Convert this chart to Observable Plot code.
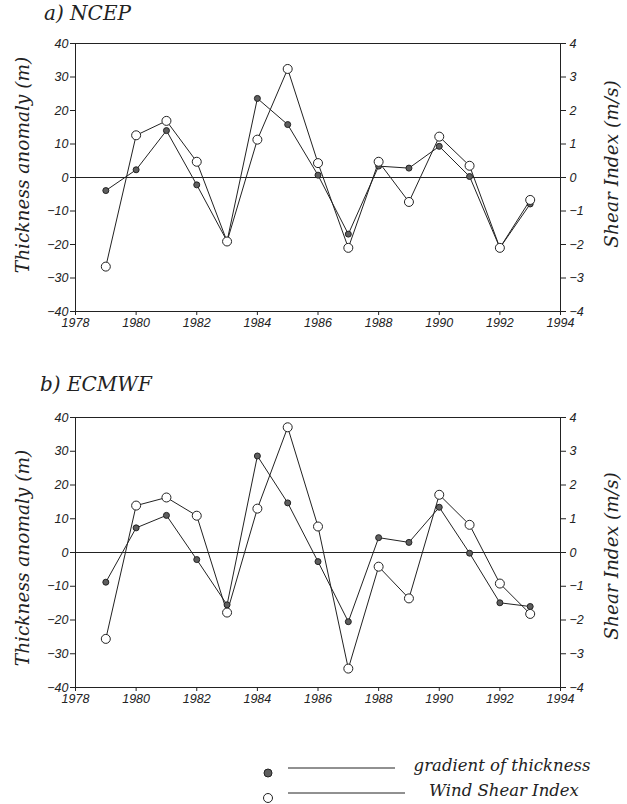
<!DOCTYPE html>
<html><head><meta charset="utf-8">
<script src="https://cdn.jsdelivr.net/npm/d3@7"></script>
<script src="https://cdn.jsdelivr.net/npm/@observablehq/plot@0.6"></script>
<style>
body{margin:0;background:#fff;}
#wrap{position:relative;width:627px;height:804px;background:#fff;overflow:hidden;}
.panel{position:absolute;left:0;}
.title{position:absolute;font-family:"DejaVu Serif",serif;font-style:italic;font-size:20px;color:#222;white-space:nowrap;}
</style></head>
<body><div id="wrap"></div>
<script>
const years = [1979,1980,1981,1982,1983,1984,1985,1986,1987,1988,1989,1990,1991,1992,1993];
const ncepThickness = [-3.9, 2.3, 14.0, -2.2, -19.0, 23.6, 15.8, 0.7, -16.9, 3.4, 2.8, 9.3, 0.3, -21.0, -7.9];
const ncepShear = [-2.66, 1.26, 1.69, 0.47, -1.91, 1.13, 3.24, 0.43, -2.10, 0.47, -0.73, 1.22, 0.35, -2.10, -0.67];
const ecmwfThickness = [-8.8, 7.3, 11.0, -2.1, -15.5, 28.6, 14.7, -2.7, -20.5, 4.4, 3.0, 13.4, -0.2, -14.9, -16.0];
const ecmwfShear = [-2.56, 1.39, 1.63, 1.09, -1.78, 1.30, 3.71, 0.77, -3.44, -0.42, -1.36, 1.71, 0.82, -0.92, -1.82];
const xTicks = [1978,1980,1982,1984,1986,1988,1990,1992,1994];
const yTicks = [-40,-30,-20,-10,0,10,20,30,40];
const leftLabel = "Thickness anomaly (m)";
const rightLabel = "Shear Index (m/s)";
const legendLabels = ["gradient of thickness", "Wind Shear Index"];

const fmt = d => d < 0 ? "\u2212" + Math.abs(d) : String(d);
const ink = "#222";
const wrap = document.getElementById("wrap");

function panel(thick, shear, top, height, mTop, mBottom, title, titleTop, titleLeft) {
  const rows = years.map((y, i) => ({year: y, thick: thick[i], shear: shear[i]}));
  const chart = Plot.plot({
    width: 627, height,
    marginTop: mTop, marginBottom: mBottom, marginLeft: 75, marginRight: 67,
    x: {domain: [1978, 1994]},
    y: {domain: [-40, 40]},
    style: {fontFamily: "'Liberation Sans', sans-serif", fontStyle: "italic", fontSize: "12.5px", color: ink, background: "transparent"},
    marks: [
      Plot.frame({stroke: ink}),
      Plot.ruleY([0], {stroke: ink, strokeWidth: 1}),
      Plot.axisX({ticks: xTicks, tickFormat: d => String(d), tickSize: 4, tickPadding: 3, label: null}),
      Plot.axisY({anchor: "left", ticks: yTicks, tickFormat: fmt, tickSize: 5, tickPadding: 2, label: null}),
      Plot.axisY({anchor: "right", ticks: yTicks, tickFormat: d => fmt(d / 10), tickSize: 5, tickPadding: 4, label: null}),
      Plot.line(rows, {x: "year", y: "thick", stroke: ink, strokeWidth: 1}),
      Plot.line(rows, {x: "year", y: d => d.shear * 10, stroke: ink, strokeWidth: 1}),
      Plot.dot(rows, {x: "year", y: "thick", r: 3, fill: "#5e5e5e", stroke: ink, strokeWidth: 1}),
      Plot.dot(rows, {x: "year", y: d => d.shear * 10, r: 4.5, fill: "#fff", stroke: ink, strokeWidth: 1})
    ]
  });
  chart.classList.add("panel");
  chart.style.top = top + "px";
  wrap.appendChild(chart);
  const t = document.createElement("div");
  t.className = "title";
  t.textContent = title;
  t.style.top = titleTop + "px";
  t.style.left = titleLeft + "px";
  wrap.appendChild(t);
}

panel(ncepThickness, ncepShear, 0, 340, 43, 29, "a) NCEP", 1, 44);
panel(ecmwfThickness, ecmwfShear, 370, 345, 47, 28, "b) ECMWF", 372, 40);

// overlay: axis titles and legend
const lg = d3.select("#wrap").append("svg")
  .attr("width", 627).attr("height", 804)
  .style("position", "absolute").style("left", 0).style("top", 0).style("pointer-events", "none");

const axisTitles = [
  {text: leftLabel, x: 23, y: 165}, {text: rightLabel, x: 612, y: 164},
  {text: leftLabel, x: 23, y: 558}, {text: rightLabel, x: 612, y: 556}
];
axisTitles.forEach(a => {
  lg.append("text").attr("transform", `translate(${a.x},${a.y}) rotate(-90)`)
    .attr("text-anchor", "middle").attr("dy", "0.35em")
    .attr("font-family", "'DejaVu Serif', serif").attr("font-style", "italic").attr("font-size", 18.5)
    .attr("fill", ink).text(a.text);
});

const items = [
  {fill: "#5e5e5e", r: 4, cy: 773, ly: 768, x2: 395, tx: 502, ty: 765},
  {fill: "#fff", r: 4.5, cy: 798, ly: 793, x2: 405, tx: 504, ty: 790}
];
items.forEach((it, i) => {
  lg.append("circle").attr("cx", 268).attr("cy", it.cy).attr("r", it.r).attr("fill", it.fill).attr("stroke", ink);
  lg.append("line").attr("x1", 288).attr("x2", it.x2).attr("y1", it.ly).attr("y2", it.ly).attr("stroke", ink);
  lg.append("text").attr("x", it.tx).attr("y", it.ty).attr("dy", "0.35em").attr("text-anchor", "middle")
    .attr("font-family", "'DejaVu Serif', serif").attr("font-style", "italic").attr("font-size", 16.5)
    .attr("fill", ink).text(legendLabels[i]);
});
</script></body></html>
